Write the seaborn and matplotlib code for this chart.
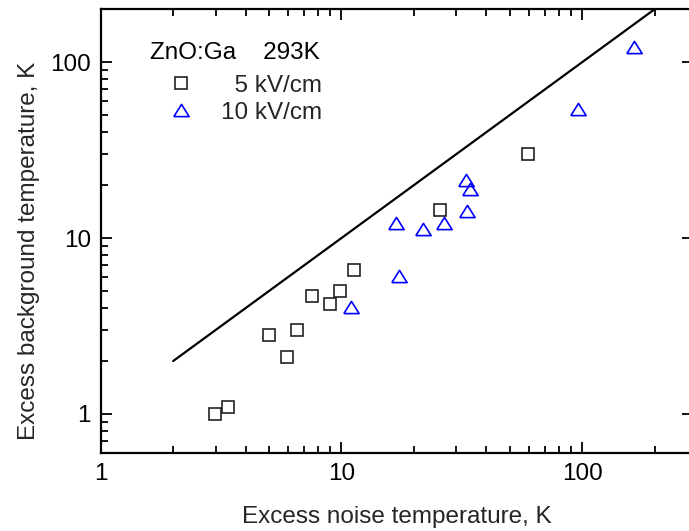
import matplotlib
matplotlib.use("Agg")
import matplotlib.pyplot as plt
from matplotlib.ticker import FuncFormatter, NullFormatter
import seaborn as sns

sns.set_theme(style="ticks")
plt.rcParams['font.family'] = ['Liberation Sans', 'DejaVu Sans']

# 5 kV/cm (squares)
noise_5 = [2.98, 3.37, 4.98, 5.97, 6.57, 7.57, 8.93, 9.91, 11.3, 25.8, 59.8]
bg_5 = [1.0, 1.1, 2.8, 2.1, 3.0, 4.7, 4.24, 5.0, 6.6, 14.4, 30.0]
# 10 kV/cm (triangles)
noise_10 = [11.0, 16.9, 17.4, 21.9, 26.8, 32.8, 34.1, 33.3, 96.5, 164.5]
bg_10 = [4.06, 12.2, 6.1, 11.2, 12.2, 21.4, 19.0, 14.2, 54.0, 121.7]
# reference line T_bg = T_noise
line_x = [2, 200]
line_y = [2, 200]

tri = [(-1, -0.8), (1, -0.8), (0, 0.8), (-1, -0.8)]
fs = 17.5

fig = plt.figure(figsize=(6.89, 5.31), dpi=100)
ax = fig.add_axes([100.7 / 689, 78 / 531, 592.3 / 689, 443.7 / 531])
ax.set_xscale('log')
ax.set_yscale('log')

sns.lineplot(x=line_x, y=line_y, color='black', lw=1.6, ax=ax)
sns.lineplot(x=noise_5, y=bg_5, marker='s', linestyle='', ms=8, color='#222222',
             mfc='none', mec='#222222', mew=1.2, estimator=None, sort=False,
             label='  5 kV/cm', ax=ax)
sns.lineplot(x=noise_10, y=bg_10, marker=tri, linestyle='', ms=11, color='#0000ff',
             mfc='none', mec='#0000ff', mew=1.2, estimator=None, sort=False,
             label='10 kV/cm', ax=ax)

ax.set_xlim(1, 289)
ax.set_ylim(0.6, 200)

fmt = FuncFormatter(lambda v, p: f"{v:g}")
ax.xaxis.set_major_formatter(fmt)
ax.yaxis.set_major_formatter(fmt)
ax.xaxis.set_minor_formatter(NullFormatter())
ax.yaxis.set_minor_formatter(NullFormatter())

ax.tick_params(which='both', direction='in', top=True, right=True, width=1.3,
               color='black', labelsize=fs, labelcolor='black')
ax.tick_params(which='major', length=8, pad=7)
ax.tick_params(which='minor', length=5)
ax.tick_params(axis='y', which='minor', right=False)
for s in ax.spines.values():
    s.set_linewidth(1.6)
    s.set_color('black')

ax.set_xlabel('Excess noise temperature, K', fontsize=fs, labelpad=15)
ax.set_ylabel('Excess background temperature, K', fontsize=fs)
ax.yaxis.set_label_coords(-0.103, 0.455)

ax.text(0.0832, 0.888, 'ZnO:Ga    293K', transform=ax.transAxes,
        fontsize=fs, ha='left', va='baseline', color='black')

handles, labels = ax.get_legend_handles_labels()
leg = ax.legend(handles, labels, loc='upper left',
                bbox_to_anchor=(0.0815, 0.852), frameon=False, fontsize=fs,
                handlelength=2.6, handletextpad=0.37, labelspacing=0.2,
                borderpad=0, borderaxespad=0)

fig.savefig('out.png', dpi=100)
